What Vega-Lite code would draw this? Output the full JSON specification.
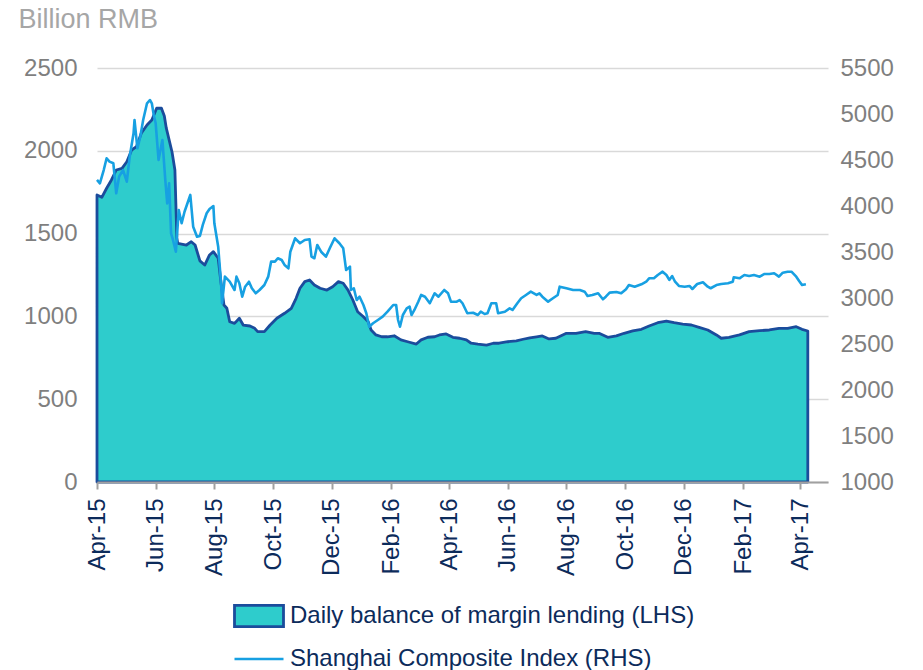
{
  "$schema": "https://vega.github.io/schema/vega-lite/v6.json",
  "autosize": "none",
  "width": 731,
  "height": 414,
  "padding": {"left": 97, "top": 68, "right": 95, "bottom": 188},
  "background": "white",
  "config": {
    "font": "Liberation Sans",
    "view": {"stroke": null},
    "axis": {"labelFont": "Liberation Sans", "titleFont": "Liberation Sans"},
    "legend": {"labelFont": "Liberation Sans"}
  },
  "datasets": {
    "margin": [
      {"date": "2015-04-01", "v": 1733}, {"date": "2015-04-06", "v": 1719}, {"date": "2015-04-11", "v": 1774},
      {"date": "2015-04-16", "v": 1824}, {"date": "2015-04-21", "v": 1884}, {"date": "2015-04-27", "v": 1894},
      {"date": "2015-05-02", "v": 1934}, {"date": "2015-05-07", "v": 2005}, {"date": "2015-05-12", "v": 2025},
      {"date": "2015-05-17", "v": 2106}, {"date": "2015-05-23", "v": 2156}, {"date": "2015-05-28", "v": 2186},
      {"date": "2015-06-02", "v": 2257}, {"date": "2015-06-07", "v": 2257}, {"date": "2015-06-10", "v": 2210},
      {"date": "2015-06-12", "v": 2138}, {"date": "2015-06-18", "v": 1993}, {"date": "2015-06-21", "v": 1884},
      {"date": "2015-06-23", "v": 1474}, {"date": "2015-06-24", "v": 1441}, {"date": "2015-07-03", "v": 1431},
      {"date": "2015-07-08", "v": 1451}, {"date": "2015-07-12", "v": 1431}, {"date": "2015-07-17", "v": 1335},
      {"date": "2015-07-22", "v": 1310}, {"date": "2015-07-27", "v": 1371}, {"date": "2015-07-31", "v": 1391},
      {"date": "2015-08-05", "v": 1351}, {"date": "2015-08-08", "v": 1200}, {"date": "2015-08-11", "v": 1069},
      {"date": "2015-08-14", "v": 1049}, {"date": "2015-08-17", "v": 968}, {"date": "2015-08-22", "v": 958},
      {"date": "2015-08-27", "v": 989}, {"date": "2015-08-31", "v": 948}, {"date": "2015-09-07", "v": 942},
      {"date": "2015-09-12", "v": 928}, {"date": "2015-09-15", "v": 908}, {"date": "2015-09-22", "v": 908},
      {"date": "2015-09-28", "v": 948}, {"date": "2015-10-05", "v": 989}, {"date": "2015-10-13", "v": 1019},
      {"date": "2015-10-20", "v": 1049}, {"date": "2015-10-25", "v": 1109}, {"date": "2015-10-29", "v": 1170},
      {"date": "2015-11-03", "v": 1210}, {"date": "2015-11-08", "v": 1220}, {"date": "2015-11-13", "v": 1190},
      {"date": "2015-11-19", "v": 1170}, {"date": "2015-11-26", "v": 1159}, {"date": "2015-12-02", "v": 1179},
      {"date": "2015-12-08", "v": 1210}, {"date": "2015-12-13", "v": 1200}, {"date": "2015-12-18", "v": 1159},
      {"date": "2015-12-23", "v": 1099}, {"date": "2015-12-28", "v": 1028}, {"date": "2016-01-03", "v": 998},
      {"date": "2016-01-08", "v": 968}, {"date": "2016-01-11", "v": 918}, {"date": "2016-01-16", "v": 888},
      {"date": "2016-01-22", "v": 877}, {"date": "2016-01-28", "v": 877}, {"date": "2016-02-04", "v": 883},
      {"date": "2016-02-11", "v": 858}, {"date": "2016-02-18", "v": 847}, {"date": "2016-02-27", "v": 833},
      {"date": "2016-03-03", "v": 858}, {"date": "2016-03-10", "v": 874}, {"date": "2016-03-17", "v": 877},
      {"date": "2016-03-22", "v": 888}, {"date": "2016-03-29", "v": 894}, {"date": "2016-04-05", "v": 874},
      {"date": "2016-04-12", "v": 868}, {"date": "2016-04-19", "v": 858}, {"date": "2016-04-24", "v": 838},
      {"date": "2016-05-01", "v": 832}, {"date": "2016-05-10", "v": 827}, {"date": "2016-05-17", "v": 838},
      {"date": "2016-05-23", "v": 838}, {"date": "2016-06-01", "v": 847}, {"date": "2016-06-10", "v": 852},
      {"date": "2016-06-17", "v": 862}, {"date": "2016-06-24", "v": 871}, {"date": "2016-07-01", "v": 877},
      {"date": "2016-07-07", "v": 882}, {"date": "2016-07-14", "v": 864}, {"date": "2016-07-21", "v": 868},
      {"date": "2016-08-01", "v": 898}, {"date": "2016-08-11", "v": 898}, {"date": "2016-08-21", "v": 908},
      {"date": "2016-08-30", "v": 898}, {"date": "2016-09-04", "v": 898}, {"date": "2016-09-13", "v": 874},
      {"date": "2016-09-22", "v": 882}, {"date": "2016-09-30", "v": 898}, {"date": "2016-10-09", "v": 912},
      {"date": "2016-10-18", "v": 922}, {"date": "2016-10-26", "v": 942}, {"date": "2016-11-04", "v": 962},
      {"date": "2016-11-13", "v": 972}, {"date": "2016-11-21", "v": 962}, {"date": "2016-11-30", "v": 954},
      {"date": "2016-12-09", "v": 948}, {"date": "2016-12-17", "v": 934}, {"date": "2016-12-26", "v": 918},
      {"date": "2017-01-04", "v": 888}, {"date": "2017-01-09", "v": 868}, {"date": "2017-01-17", "v": 874},
      {"date": "2017-01-28", "v": 888}, {"date": "2017-02-07", "v": 908}, {"date": "2017-02-18", "v": 914},
      {"date": "2017-02-28", "v": 918}, {"date": "2017-03-10", "v": 928}, {"date": "2017-03-19", "v": 928},
      {"date": "2017-03-28", "v": 938}, {"date": "2017-04-03", "v": 922}, {"date": "2017-04-09", "v": 912}
    ],
    "sse": [
      {"date": "2015-04-01", "v": 4283}, {"date": "2015-04-04", "v": 4247}, {"date": "2015-04-08", "v": 4391},
      {"date": "2015-04-11", "v": 4519}, {"date": "2015-04-14", "v": 4482}, {"date": "2015-04-18", "v": 4464},
      {"date": "2015-04-21", "v": 4138}, {"date": "2015-04-24", "v": 4319}, {"date": "2015-04-28", "v": 4391},
      {"date": "2015-05-02", "v": 4264}, {"date": "2015-05-05", "v": 4536}, {"date": "2015-05-09", "v": 4790},
      {"date": "2015-05-10", "v": 4935}, {"date": "2015-05-13", "v": 4627}, {"date": "2015-05-16", "v": 4753},
      {"date": "2015-05-19", "v": 4935}, {"date": "2015-05-23", "v": 5116}, {"date": "2015-05-26", "v": 5152},
      {"date": "2015-05-28", "v": 5116}, {"date": "2015-05-30", "v": 4989}, {"date": "2015-06-01", "v": 4899},
      {"date": "2015-06-04", "v": 4500}, {"date": "2015-06-06", "v": 4609}, {"date": "2015-06-08", "v": 4718},
      {"date": "2015-06-11", "v": 4283}, {"date": "2015-06-13", "v": 4029}, {"date": "2015-06-15", "v": 4247},
      {"date": "2015-06-17", "v": 3703}, {"date": "2015-06-19", "v": 3631}, {"date": "2015-06-22", "v": 3503},
      {"date": "2015-06-25", "v": 3957}, {"date": "2015-06-28", "v": 3812}, {"date": "2015-07-01", "v": 3938},
      {"date": "2015-07-07", "v": 4120}, {"date": "2015-07-10", "v": 3775}, {"date": "2015-07-14", "v": 3666},
      {"date": "2015-07-17", "v": 3674}, {"date": "2015-07-20", "v": 3794}, {"date": "2015-07-24", "v": 3921},
      {"date": "2015-07-27", "v": 3968}, {"date": "2015-07-31", "v": 4000}, {"date": "2015-08-01", "v": 3812},
      {"date": "2015-08-05", "v": 3558}, {"date": "2015-08-08", "v": 3160}, {"date": "2015-08-09", "v": 2943},
      {"date": "2015-08-12", "v": 3232}, {"date": "2015-08-17", "v": 3177}, {"date": "2015-08-22", "v": 3087},
      {"date": "2015-08-24", "v": 3232}, {"date": "2015-08-27", "v": 3160}, {"date": "2015-08-30", "v": 3014},
      {"date": "2015-09-02", "v": 3123}, {"date": "2015-09-06", "v": 3177}, {"date": "2015-09-09", "v": 3106},
      {"date": "2015-09-13", "v": 3051}, {"date": "2015-09-17", "v": 3087}, {"date": "2015-09-22", "v": 3141},
      {"date": "2015-09-26", "v": 3232}, {"date": "2015-09-29", "v": 3395}, {"date": "2015-10-03", "v": 3395},
      {"date": "2015-10-06", "v": 3432}, {"date": "2015-10-10", "v": 3413}, {"date": "2015-10-13", "v": 3359},
      {"date": "2015-10-17", "v": 3323}, {"date": "2015-10-19", "v": 3503}, {"date": "2015-10-24", "v": 3649},
      {"date": "2015-10-29", "v": 3595}, {"date": "2015-11-03", "v": 3631}, {"date": "2015-11-08", "v": 3638},
      {"date": "2015-11-10", "v": 3449}, {"date": "2015-11-13", "v": 3432}, {"date": "2015-11-16", "v": 3576},
      {"date": "2015-11-20", "v": 3503}, {"date": "2015-11-25", "v": 3449}, {"date": "2015-11-29", "v": 3540},
      {"date": "2015-12-04", "v": 3649}, {"date": "2015-12-09", "v": 3595}, {"date": "2015-12-13", "v": 3540},
      {"date": "2015-12-16", "v": 3304}, {"date": "2015-12-20", "v": 3340}, {"date": "2015-12-21", "v": 3087},
      {"date": "2015-12-24", "v": 3106}, {"date": "2015-12-27", "v": 2978}, {"date": "2015-12-30", "v": 3014},
      {"date": "2016-01-03", "v": 2924}, {"date": "2016-01-06", "v": 2834}, {"date": "2016-01-09", "v": 2688},
      {"date": "2016-01-13", "v": 2725}, {"date": "2016-01-18", "v": 2761}, {"date": "2016-01-23", "v": 2797},
      {"date": "2016-01-28", "v": 2851}, {"date": "2016-02-03", "v": 2924}, {"date": "2016-02-06", "v": 2924},
      {"date": "2016-02-08", "v": 2761}, {"date": "2016-02-10", "v": 2688}, {"date": "2016-02-13", "v": 2815},
      {"date": "2016-02-17", "v": 2888}, {"date": "2016-02-20", "v": 2906}, {"date": "2016-02-22", "v": 2815},
      {"date": "2016-02-25", "v": 2870}, {"date": "2016-02-29", "v": 2960}, {"date": "2016-03-03", "v": 3033},
      {"date": "2016-03-07", "v": 3014}, {"date": "2016-03-12", "v": 2943}, {"date": "2016-03-17", "v": 3051},
      {"date": "2016-03-21", "v": 3014}, {"date": "2016-03-27", "v": 3087}, {"date": "2016-03-31", "v": 3051},
      {"date": "2016-04-03", "v": 2960}, {"date": "2016-04-09", "v": 2960}, {"date": "2016-04-12", "v": 2978},
      {"date": "2016-04-15", "v": 2943}, {"date": "2016-04-20", "v": 2834}, {"date": "2016-04-26", "v": 2840},
      {"date": "2016-05-01", "v": 2815}, {"date": "2016-05-04", "v": 2851}, {"date": "2016-05-08", "v": 2826},
      {"date": "2016-05-11", "v": 2834}, {"date": "2016-05-15", "v": 2943}, {"date": "2016-05-20", "v": 2943},
      {"date": "2016-05-22", "v": 2834}, {"date": "2016-05-29", "v": 2851}, {"date": "2016-06-03", "v": 2888},
      {"date": "2016-06-06", "v": 2870}, {"date": "2016-06-11", "v": 2943}, {"date": "2016-06-15", "v": 2997},
      {"date": "2016-06-20", "v": 3033}, {"date": "2016-06-25", "v": 3069}, {"date": "2016-07-01", "v": 3033},
      {"date": "2016-07-04", "v": 3051}, {"date": "2016-07-07", "v": 3014}, {"date": "2016-07-13", "v": 2960},
      {"date": "2016-07-18", "v": 2997}, {"date": "2016-07-23", "v": 3033}, {"date": "2016-07-25", "v": 3123},
      {"date": "2016-08-01", "v": 3106}, {"date": "2016-08-08", "v": 3087}, {"date": "2016-08-15", "v": 3087},
      {"date": "2016-08-20", "v": 3069}, {"date": "2016-08-23", "v": 3022}, {"date": "2016-08-28", "v": 3033},
      {"date": "2016-09-03", "v": 3051}, {"date": "2016-09-08", "v": 2986}, {"date": "2016-09-11", "v": 3014},
      {"date": "2016-09-15", "v": 3058}, {"date": "2016-09-22", "v": 3065}, {"date": "2016-09-27", "v": 3051},
      {"date": "2016-10-02", "v": 3095}, {"date": "2016-10-05", "v": 3141}, {"date": "2016-10-11", "v": 3123},
      {"date": "2016-10-18", "v": 3149}, {"date": "2016-10-23", "v": 3177}, {"date": "2016-10-26", "v": 3214},
      {"date": "2016-10-31", "v": 3214}, {"date": "2016-11-04", "v": 3250}, {"date": "2016-11-09", "v": 3286},
      {"date": "2016-11-13", "v": 3250}, {"date": "2016-11-16", "v": 3196}, {"date": "2016-11-19", "v": 3239},
      {"date": "2016-11-22", "v": 3177}, {"date": "2016-11-26", "v": 3131}, {"date": "2016-12-02", "v": 3123},
      {"date": "2016-12-07", "v": 3131}, {"date": "2016-12-10", "v": 3098}, {"date": "2016-12-15", "v": 3152},
      {"date": "2016-12-21", "v": 3171}, {"date": "2016-12-26", "v": 3123}, {"date": "2016-12-29", "v": 3106},
      {"date": "2017-01-04", "v": 3141}, {"date": "2017-01-09", "v": 3152}, {"date": "2017-01-16", "v": 3160},
      {"date": "2017-01-21", "v": 3177}, {"date": "2017-01-22", "v": 3225}, {"date": "2017-01-28", "v": 3214},
      {"date": "2017-02-02", "v": 3250}, {"date": "2017-02-07", "v": 3239}, {"date": "2017-02-12", "v": 3250},
      {"date": "2017-02-18", "v": 3232}, {"date": "2017-02-23", "v": 3261}, {"date": "2017-02-28", "v": 3261},
      {"date": "2017-03-05", "v": 3269}, {"date": "2017-03-10", "v": 3232}, {"date": "2017-03-14", "v": 3275},
      {"date": "2017-03-19", "v": 3286}, {"date": "2017-03-23", "v": 3286}, {"date": "2017-03-28", "v": 3232},
      {"date": "2017-03-31", "v": 3185}, {"date": "2017-04-03", "v": 3141}, {"date": "2017-04-07", "v": 3149}
    ]
  },
  "layer": [
    {
      "data": {"name": "margin"},
      "mark": {"type": "area", "stroke": "#1b4c9c", "strokeWidth": 2.8, "strokeJoin": "round", "interpolate": "linear"},
      "encoding": {
        "x": {
          "field": "date", "type": "temporal",
          "scale": {"type": "utc", "domain": [{"year": 2015, "month": 4, "date": 1, "utc": true}, {"year": 2017, "month": 4, "date": 30, "utc": true}]},
          "axis": {
            "title": null, "zindex": 1,
            "labelExpr": "utcFormat(datum.value, '%b-%y')",
            "values": [
              {"year": 2015, "month": 4, "date": 1, "utc": true}, {"year": 2015, "month": 6, "date": 1, "utc": true},
              {"year": 2015, "month": 8, "date": 1, "utc": true}, {"year": 2015, "month": 10, "date": 1, "utc": true},
              {"year": 2015, "month": 12, "date": 1, "utc": true}, {"year": 2016, "month": 2, "date": 1, "utc": true},
              {"year": 2016, "month": 4, "date": 1, "utc": true}, {"year": 2016, "month": 6, "date": 1, "utc": true},
              {"year": 2016, "month": 8, "date": 1, "utc": true}, {"year": 2016, "month": 10, "date": 1, "utc": true},
              {"year": 2016, "month": 12, "date": 1, "utc": true}, {"year": 2017, "month": 2, "date": 1, "utc": true},
              {"year": 2017, "month": 4, "date": 1, "utc": true}
            ],
            "labelAngle": -90, "labelAlign": "right", "labelBaseline": "middle",
            "labelFontSize": 24, "labelColor": "#0c2b5b", "labelPadding": 9,
            "labelOverlap": false, "labelBound": false, "labelFlush": false,
            "domainColor": "#a0a0a0", "domainWidth": 2, "tickColor": "#a0a0a0", "tickWidth": 2, "tickSize": 7,
            "grid": false
          }
        },
        "y": {
          "field": "v", "type": "quantitative",
          "scale": {"domain": [0, 2500], "nice": false, "zero": true},
          "axis": {
            "title": "Billion RMB", "titleAngle": 0, "titleAlign": "left", "titleBaseline": "alphabetic",
            "titleX": -79, "titleY": -41, "titleFontSize": 27, "titleFontWeight": "normal", "titleColor": "#a6a6a6",
            "values": [0, 500, 1000, 1500, 2000, 2500], "format": "d",
            "labelFontSize": 24, "labelColor": "#7f7f7f", "labelPadding": 20,
            "domain": false, "ticks": false,
            "grid": true, "gridColor": "#d9d9d9", "gridWidth": 1.5
          }
        },
        "fill": {
          "datum": "Daily balance of margin lending (LHS)", "type": "nominal",
          "scale": {"range": ["#2ecccc"]},
          "legend": {
            "orient": "none", "legendX": 136, "legendY": 522, "title": null, "padding": 0,
            "symbolType": "M-1,-0.43H1V0.43H-1Z", "symbolSize": 2401,
            "symbolStrokeColor": "#1b4c9c", "symbolStrokeWidth": 2.8, "symbolFillColor": "#2ecccc",
            "labelFontSize": 24, "labelColor": "#0c2b5b", "labelOffset": 5, "labelLimit": 700
          }
        }
      }
    },
    {
      "data": {"name": "sse"},
      "mark": {"type": "line", "strokeWidth": 2.6, "strokeJoin": "round"},
      "encoding": {
        "x": {"field": "date", "type": "temporal"},
        "y": {
          "field": "v", "type": "quantitative",
          "scale": {"domain": [1000, 5500], "nice": false, "zero": false},
          "axis": {
            "orient": "right", "title": null,
            "values": [1000, 1500, 2000, 2500, 3000, 3500, 4000, 4500, 5000, 5500], "format": "d",
            "labelFontSize": 24, "labelColor": "#7f7f7f", "labelPadding": 12,
            "domain": false, "ticks": false, "grid": false
          }
        },
        "stroke": {
          "datum": "Shanghai Composite Index (RHS)", "type": "nominal",
          "scale": {"range": ["#17a0e2"]},
          "legend": {
            "orient": "none", "legendX": 136, "legendY": 565, "title": null, "padding": 0,
            "symbolType": "stroke", "symbolSize": 2401, "symbolStrokeWidth": 2.4,
            "labelFontSize": 24, "labelColor": "#0c2b5b", "labelOffset": 5, "labelLimit": 700
          }
        }
      }
    }
  ],
  "resolve": {"scale": {"y": "independent"}}
}
